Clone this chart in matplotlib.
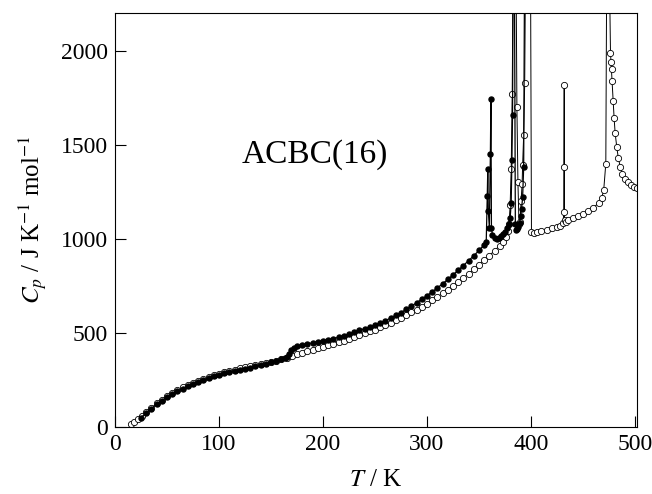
import matplotlib
matplotlib.use('Agg')
import matplotlib.pyplot as plt

plt.rcParams['font.family'] = ['Liberation Serif', 'DejaVu Serif']
plt.rcParams['mathtext.fontset'] = 'stix'

# filled circles (first series)
T_filled = [25, 30, 35, 40, 45, 50, 55, 60, 65, 70, 75, 80, 85, 90, 95, 100,
            105, 110, 115, 120, 125, 130, 135, 140, 145, 150, 155, 160, 163, 165,
            167, 169, 172, 175, 180, 185, 190, 195, 200, 205, 210, 215, 220, 225,
            230, 235, 240, 245, 250, 255, 260, 265, 270, 275, 280, 285, 290, 295,
            300, 305, 310, 315, 320, 325, 330, 335, 340, 345, 350, 355, 357,
            358, 358.5, 359, 360, 361, 361.5, 362, 363, 365, 367, 369, 371, 373,
            375, 377, 379, 380, 381, 381.7, 382.3, 383, 384, 385, 386, 387, 388,
            389, 390, 391, 392, 393, 394]
Cp_filled = [50, 75, 98, 120, 140, 158, 175, 190, 204, 217, 229, 240, 250, 260,
             269, 277, 285, 292, 298, 304, 310, 316, 322, 329, 336, 343, 351, 360,
             366, 372, 390, 408, 420, 428, 436, 442, 447, 452, 458, 464, 470, 477,
             485, 494, 503, 513, 523, 532, 542, 553, 565, 579, 593, 608, 625, 642,
             660, 679, 698, 718, 739, 761, 784, 808, 833, 858, 884, 910, 938, 968,
             985, 1230, 1370, 1150, 1060, 1450, 1745, 1060, 1020, 1005, 1000, 1005,
             1015, 1025, 1038, 1055, 1080, 1110, 1190, 1420, 1660, 2600, 2600, 1080,
             1045, 1050, 1065, 1085, 1120, 1160, 1220, 1380, 2600]

# open circles (second series)
T_open = [15, 18, 22, 26, 30, 35, 40, 45, 50, 55, 60, 65, 70, 75, 80, 85, 90, 95,
          100, 105, 110, 115, 120, 125, 130, 135, 140, 145, 150, 155, 160, 165,
          170, 175, 180, 185, 190, 195, 200, 205, 210, 215, 220, 225, 230, 235,
          240, 245, 250, 255, 260, 265, 270, 275, 280, 285, 290, 295, 300, 305,
          310, 315, 320, 325, 330, 335, 340, 345, 350, 355, 360, 365, 370, 373,
          376, 378, 379, 380, 381, 382, 383, 385.5, 386.5, 387.5, 388.5, 389.5,
          390.5, 391.5, 392, 393, 394, 395, 399.5, 400.5, 403, 406, 410, 415, 420,
          425, 428, 431, 431.5, 431.7, 432, 432.3, 434, 436, 440, 445, 450, 455,
          460, 465, 468, 470, 472, 473, 475, 476.5, 477, 477.5, 478, 479, 480, 481,
          482.5, 484, 486, 488, 490, 493, 496, 499, 502]
Cp_open = [15, 25, 40, 58, 78, 102, 125, 146, 165, 182, 197, 211, 224, 236, 247,
           257, 267, 276, 284, 292, 299, 305, 311, 317, 323, 329, 335, 341, 347,
           353, 360, 368, 378, 386, 394, 402, 410, 418, 426, 434, 442, 450, 459,
           468, 478, 488, 498, 508, 518, 529, 541, 553, 566, 580, 594, 609, 624,
           640, 656, 673, 691, 710, 729, 749, 770, 792, 814, 837, 861, 886, 911,
           937, 964, 985, 1010, 1040, 1080, 1180, 1370, 1770, 2600, 2600, 1700,
           1300, 1080, 1090, 1200, 1290, 1390, 1550, 1830, 2600, 2600, 1035, 1030,
           1035, 1040, 1048, 1055, 1063, 1070, 1085, 1140, 1380, 1820, 1100, 1092,
           1098, 1108, 1120, 1133, 1148, 1165, 1190, 1215, 1260, 1400, 2600, 2600,
           1990, 1940, 1900, 1840, 1730, 1640, 1560, 1490, 1430, 1380, 1345, 1320,
           1300, 1285, 1278, 1272]

x_ticks = [0, 100, 200, 300, 400, 500]
y_ticks = [0, 500, 1000, 1500, 2000]


def main():
    fig = plt.figure(figsize=(6.52, 4.94), dpi=100)
    ax = fig.add_axes([0.1764, 0.1356, 0.8006, 0.8381])

    ax.plot(T_open, Cp_open, color='black', lw=0.7, marker='o', ms=4.5,
            mfc='white', mec='black', mew=0.6, zorder=2)
    ax.plot(T_filled, Cp_filled, color='black', lw=0.9, marker='o', ms=3.6,
            mfc='black', mec='black', zorder=3)

    ax.set_xlim(0, 502)
    ax.set_ylim(0, 2200)
    ax.set_xticks(x_ticks)
    ax.set_yticks(y_ticks)
    ax.tick_params(direction='in', length=8, width=0.8, labelsize=17, pad=5)
    for s in ax.spines.values():
        s.set_linewidth(0.8)

    ax.set_xlabel(r'$T$ / K', fontsize=18, labelpad=10)
    ax.set_ylabel(r'$C_p$ / J K$^{-1}$ mol$^{-1}$', fontsize=18, labelpad=8)
    ax.text(192, 1450, 'ACBC(16)', fontsize=24, ha='center', va='center')

    fig.savefig('out.png', dpi=100)


if __name__ == '__main__':
    main()
